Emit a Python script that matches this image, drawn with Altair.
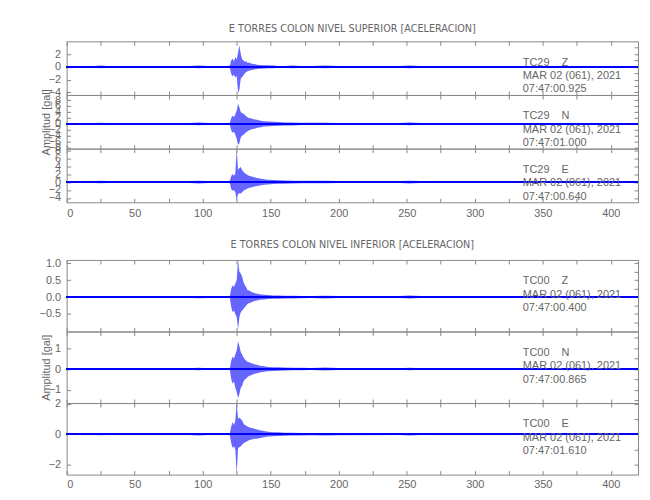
import altair as alt
import pandas as pd

# ---------------- data ----------------
T = [0, 20, 25, 30, 90, 97, 104, 118, 120, 121, 122, 123, 124, 125, 126, 127, 128,
     129, 130, 131, 132, 133, 134, 136, 138, 140, 142, 145, 148, 152, 156, 160, 166,
     172, 180, 190, 200, 245, 252, 260, 300, 415]

# upper / lower envelopes (units: gal)
SUP_Z_HI = [0.15, 0.15, 0.22, 0.15, 0.15, 0.22, 0.15, 0.15, 0.2, 1.0, 1.3, 0.9, 1.5, 1.2, 2.2, 3.4, 2.0,
            1.2, 1.0, 0.8, 0.9, 0.6, 0.7, 0.5, 0.45, 0.35, 0.3, 0.25, 0.25, 0.2, 0.15, 0.15, 0.2,
            0.15, 0.15, 0.2, 0.15, 0.15, 0.22, 0.15, 0.15, 0.15]
SUP_Z_LO = [-0.15, -0.15, -0.22, -0.15, -0.15, -0.22, -0.15, -0.15, -0.2, -1.1, -1.5, -1.2, -1.7, -1.4, -4.0, -3.6, -1.8,
            -1.6, -1.3, -1.0, -0.8, -0.7, -0.6, -0.5, -0.4, -0.35, -0.3, -0.25, -0.2, -0.2, -0.15, -0.15, -0.2,
            -0.15, -0.15, -0.2, -0.15, -0.15, -0.22, -0.15, -0.15, -0.15]

SUP_N_HI = [0.3, 0.3, 0.4, 0.3, 0.3, 0.45, 0.3, 0.3, 0.4, 2.0, 2.8, 2.2, 3.2, 4.5, 6.8, 5.5, 4.0,
            3.6, 3.5, 3.0, 2.6, 2.2, 2.0, 1.8, 1.5, 1.4, 1.1, 0.9, 0.8, 0.7, 0.6, 0.5, 0.5,
            0.4, 0.4, 0.35, 0.3, 0.3, 0.45, 0.3, 0.3, 0.3]
SUP_N_LO = [-0.3, -0.3, -0.4, -0.3, -0.3, -0.45, -0.3, -0.3, -0.4, -2.2, -3.0, -2.6, -3.6, -5.0, -7.0, -6.5, -4.5,
            -4.0, -3.6, -3.2, -2.8, -2.5, -2.2, -1.8, -1.6, -1.3, -1.2, -0.9, -0.8, -0.7, -0.6, -0.5, -0.5,
            -0.4, -0.4, -0.35, -0.3, -0.3, -0.45, -0.3, -0.3, -0.3]

SUP_E_HI = [0.25, 0.25, 0.3, 0.25, 0.25, 0.35, 0.25, 0.25, 0.3, 1.5, 2.0, 1.6, 2.2, 8.4, 3.0, 3.5, 3.8,
            3.0, 2.6, 2.2, 2.0, 1.8, 1.6, 1.4, 1.2, 1.0, 0.9, 0.7, 0.6, 0.5, 0.45, 0.4, 0.35,
            0.3, 0.3, 0.3, 0.25, 0.25, 0.35, 0.25, 0.25, 0.25]
SUP_E_LO = [-0.25, -0.25, -0.3, -0.25, -0.25, -0.35, -0.25, -0.25, -0.3, -1.8, -2.2, -2.0, -2.6, -4.6, -3.0, -2.8, -2.9,
            -2.6, -2.2, -2.0, -1.8, -1.6, -1.5, -1.3, -1.1, -1.0, -0.9, -0.7, -0.6, -0.5, -0.45, -0.4, -0.35,
            -0.3, -0.3, -0.3, -0.25, -0.25, -0.35, -0.25, -0.25, -0.25]

INF_Z_HI = [0.025, 0.025, 0.03, 0.025, 0.025, 0.035, 0.025, 0.025, 0.03, 0.25, 0.35, 0.3, 0.4, 0.5, 1.1, 0.75, 0.7,
            0.6, 0.45, 0.35, 0.3, 0.2, 0.2, 0.15, 0.12, 0.1, 0.08, 0.07, 0.06, 0.05, 0.05, 0.04, 0.04,
            0.035, 0.03, 0.04, 0.03, 0.03, 0.045, 0.03, 0.03, 0.025]
INF_Z_LO = [-0.025, -0.025, -0.03, -0.025, -0.025, -0.035, -0.025, -0.025, -0.03, -0.3, -0.45, -0.4, -0.5, -0.6, -0.95, -0.6, -0.45,
            -0.4, -0.35, -0.3, -0.25, -0.2, -0.18, -0.15, -0.12, -0.1, -0.08, -0.07, -0.06, -0.05, -0.05, -0.04, -0.04,
            -0.035, -0.03, -0.04, -0.03, -0.03, -0.045, -0.03, -0.03, -0.025]

INF_N_HI = [0.04, 0.04, 0.05, 0.04, 0.04, 0.06, 0.04, 0.04, 0.05, 0.4, 0.6, 0.5, 0.7, 0.9, 1.32, 1.1, 0.8,
            0.7, 0.55, 0.47, 0.4, 0.35, 0.32, 0.28, 0.23, 0.2, 0.16, 0.13, 0.1, 0.09, 0.08, 0.07, 0.06,
            0.06, 0.05, 0.07, 0.05, 0.04, 0.06, 0.04, 0.04, 0.04]
INF_N_LO = [-0.04, -0.04, -0.05, -0.04, -0.04, -0.06, -0.04, -0.04, -0.05, -0.5, -0.7, -0.6, -0.9, -1.1, -1.4, -1.2, -0.9,
            -0.8, -0.6, -0.5, -0.45, -0.38, -0.33, -0.28, -0.23, -0.2, -0.16, -0.13, -0.1, -0.09, -0.08, -0.07, -0.06,
            -0.06, -0.05, -0.07, -0.05, -0.04, -0.06, -0.04, -0.04, -0.04]

INF_E_HI = [0.06, 0.06, 0.07, 0.06, 0.06, 0.08, 0.06, 0.06, 0.07, 0.5, 0.8, 0.6, 0.9, 2.04, 1.0, 1.1, 1.0,
            0.9, 0.7, 0.6, 0.55, 0.5, 0.45, 0.4, 0.35, 0.3, 0.25, 0.2, 0.15, 0.13, 0.12, 0.1, 0.09,
            0.08, 0.07, 0.08, 0.07, 0.06, 0.08, 0.06, 0.06, 0.06]
INF_E_LO = [-0.06, -0.06, -0.07, -0.06, -0.06, -0.08, -0.06, -0.06, -0.07, -0.6, -0.9, -0.8, -1.0, -2.65, -0.9, -0.85, -0.8,
            -0.7, -0.6, -0.55, -0.5, -0.45, -0.4, -0.35, -0.3, -0.3, -0.25, -0.2, -0.15, -0.13, -0.12, -0.1, -0.09,
            -0.08, -0.07, -0.08, -0.07, -0.06, -0.08, -0.06, -0.06, -0.06]

TITLES = ["E TORRES COLON NIVEL SUPERIOR [ACELERACION]",
          "E TORRES COLON NIVEL INFERIOR [ACELERACION]"]
NB = "\u00a0\u00a0\u00a0\u00a0"
LABELS_SUP = [["TC29" + NB + "Z", "MAR 02 (061), 2021", "07:47:00.925"],
              ["TC29" + NB + "N", "MAR 02 (061), 2021", "07:47:01.000"],
              ["TC29" + NB + "E", "MAR 02 (061), 2021", "07:47:00.640"]]
LABELS_INF = [["TC00" + NB + "Z", "MAR 02 (061), 2021", "07:47:00.400"],
              ["TC00" + NB + "N", "MAR 02 (061), 2021", "07:47:00.865"],
              ["TC00" + NB + "E", "MAR 02 (061), 2021", "07:47:01.610"]]
YDOM_SUP = [[-4.4, 4.0], [-8.3, 9.7], [-5.1, 8.4]]
YTICKS_SUP = [[-4, -2, 0, 2], [-8, -6, -4, -2, 0, 2, 4, 6, 8], [-4, -2, 0, 2, 4, 6, 8]]
YDOM_INF = [[-1.02, 1.1], [-1.63, 1.8], [-2.65, 2.04]]
YTICKS_INF = [[-0.5, 0.0, 0.5, 1.0], [-1, 0, 1], [-2, 0, 2]]
YMINOR_SUP = [[-4, -3, -2, -1, 0, 1, 2, 3], [-8, -6, -4, -2, 0, 2, 4, 6, 8], [-4, -2, 0, 2, 4, 6, 8]]
YMINOR_INF = [[-0.75, -0.5, -0.25, 0.0, 0.25, 0.5, 0.75, 1.0], [-1.5, -1, -0.5, 0, 0.5, 1, 1.5], [-2, -1, 0, 1, 2]]
YFMT_INF = [".1f", "d", "d"]
XTICKS = list(range(0, 425, 25))
XDOM = [0, 420]

NARROW = "Liberation Sans Narrow, DejaVu Sans Condensed, Liberation Sans"
FONT = "Liberation Sans, Arial, sans-serif"
GRAY = "#666666"
LINE = "#888888"
BLUE = "#0000ff"
W = 575
TK = 4


def panel(hi, lo, ydom, yticks, yminor, yfmt, lines, height, last, middle, title, lpad):
    df = pd.DataFrame({"t": T, "hi": hi, "lo": lo})
    xscale = alt.Scale(domain=XDOM, nice=False, zero=False)
    yscale = alt.Scale(domain=ydom, nice=False, zero=False)
    xaxis = alt.Axis(values=XTICKS, grid=False, title=None, labels=last, domain=False,
                     labelExpr="datum.value % 50 == 0 ? datum.label : ''",
                     tickSize=TK, offset=-TK, labelPadding=lpad + TK)
    yaxis = alt.Axis(values=yticks, grid=False, format=yfmt, labelOverlap=False,
                     title="Amplitud [gal]" if middle else None, domain=False,
                     tickSize=TK, offset=-TK, labelPadding=2 + TK,
                     minExtent=17, maxExtent=17, titlePadding=2)
    top_axis = alt.Axis(values=XTICKS, grid=False, title=None, labels=False, domain=False,
                        orient="top", tickSize=TK, offset=-TK)
    right_axis = alt.Axis(values=yminor, grid=False, title=None, labels=False, domain=False,
                          orient="right", tickSize=TK, offset=-TK)
    area = alt.Chart(df).mark_area(color=BLUE, opacity=0.6, clip=True).encode(
        x=alt.X("t:Q", scale=xscale, axis=xaxis),
        y=alt.Y("hi:Q", scale=yscale, axis=yaxis),
        y2="lo:Q",
    )
    ticks = alt.Chart(df).mark_point(opacity=0).encode(
        x=alt.X("t:Q", scale=xscale, axis=top_axis),
        y=alt.Y("hi:Q", scale=yscale, axis=right_axis),
    )
    base = alt.Chart(df).mark_rule(color=BLUE, strokeWidth=1.2).encode(
        y=alt.Y(datum=0, axis=None))
    txt = alt.Chart(pd.DataFrame({"k": [0]})).mark_text(
        align="left", baseline="middle", font=FONT, fontSize=11, color=GRAY,
        lineHeight=13.5,
    ).encode(x=alt.value(459), y=alt.value(21.5), text=alt.value(lines))
    props = dict(width=W, height=height)
    if title:
        props["title"] = alt.TitleParams(title, anchor="middle", frame="group", font=NARROW,
                                         fontSize=10.8, fontWeight="normal", color=GRAY, offset=7)
    return alt.layer(area, ticks, base, txt).resolve_axis(
        x="independent", y="independent").properties(**props)


sup = [(SUP_Z_HI, SUP_Z_LO), (SUP_N_HI, SUP_N_LO), (SUP_E_HI, SUP_E_LO)]
inf = [(INF_Z_HI, INF_Z_LO), (INF_N_HI, INF_N_LO), (INF_E_HI, INF_E_LO)]

g1_panels = [panel(sup[i][0], sup[i][1], YDOM_SUP[i], YTICKS_SUP[i], YMINOR_SUP[i], "d",
                   LABELS_SUP[i], 54, i == 2, i == 1, TITLES[0] if i == 0 else None, 1)
             for i in range(3)]
g2_panels = [panel(inf[i][0], inf[i][1], YDOM_INF[i], YTICKS_INF[i], YMINOR_INF[i], YFMT_INF[i],
                   LABELS_INF[i], 72, i == 2, i == 1, TITLES[1] if i == 0 else None, 0)
             for i in range(3)]

g1 = alt.vconcat(*g1_panels, spacing=0, bounds="flush")
g2 = alt.vconcat(*g2_panels, spacing=0, bounds="flush")

chart = alt.vconcat(g1, g2, spacing=19).properties(
    padding={"left": 30, "top": 13, "right": 2, "bottom": 2}
).configure_view(
    stroke=LINE, strokeWidth=1
).configure_axis(
    domainColor=LINE, tickColor=LINE, labelColor=GRAY, titleColor=GRAY,
    labelFont=FONT, titleFont=FONT, labelFontSize=11, titleFontSize=11,
    titleFontWeight="normal", labelOverlap=False
)

chart.save("out.html", embed_options={"renderer": "svg", "actions": False})
